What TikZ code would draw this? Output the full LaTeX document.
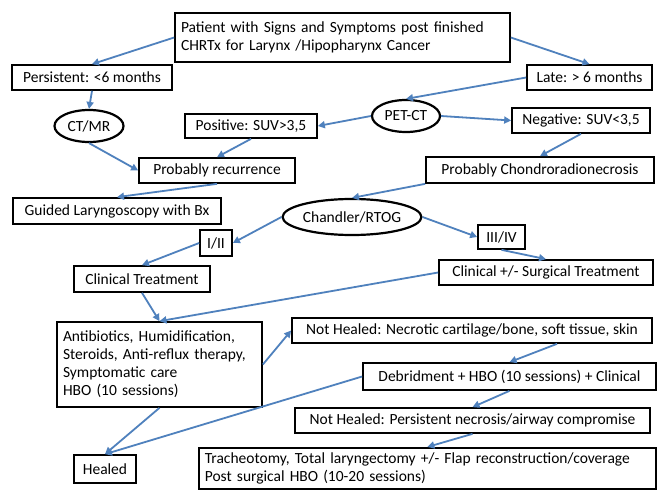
\documentclass[tikz,border=0pt]{standalone}
\usepackage{fontspec}
\setmainfont{Carlito}
\usetikzlibrary{arrows.meta,shapes.geometric}
\definecolor{arrowblue}{RGB}{79,129,189}

\begin{document}
\begin{tikzpicture}[x=1pt,y=-1pt]
\tikzset{box/.style={draw=black,line width=1.7pt,inner xsep=6pt,inner ysep=0pt,minimum height=25pt}}
\tikzset{oval/.style={ellipse,draw=black,line width=2.2pt,inner sep=0pt}}
\tikzset{flow/.style={draw=arrowblue,line width=1.8pt,-{Triangle[length=7pt,width=7pt]}}}

\fontsize{15.5}{18}\selectfont

\useasboundingbox (0,0) rectangle (660,489);
\clip (0,0) rectangle (660,489);
\fill[white] (0,0) rectangle (660,489);

\node[box,text width=323pt,minimum height=49pt,align=left] (patient) at (342.5,37.5) {Patient with Signs and Symptoms post finished\\CHRTx for Larynx /Hipopharynx Cancer};
\node[box,minimum width=160pt] (persistent) at (92,77.5) {Persistent: <6 months};
\node[box,minimum width=125pt] (late) at (589.5,77.5) {Late: > 6 months};
\node[oval,minimum width=69pt,minimum height=32pt] (ctmr) at (89,126) {CT/MR};
\node[box,minimum width=132pt,minimum height=24pt] (positive) at (251,126) {Positive: SUV>3,5};
\node[oval,minimum width=68pt,minimum height=32pt] (petct) at (406,116) {PET-CT};
\node[box,minimum width=138pt] (negative) at (581,120.5) {Negative: SUV<3,5};
\node[box,minimum width=156pt] (recurrence) at (217,170.5) {Probably recurrence};
\node[box,minimum width=228pt,minimum height=26pt] (chondro) at (540,170) {Probably Chondroradionecrosis};
\node[box,minimum width=208pt,minimum height=26pt] (biopsy) at (117,211) {Guided Laryngoscopy with Bx};
\node[oval,minimum width=120pt,minimum height=36pt] (chandler) at (352,217) {Chandler/RTOG};
\node[box,minimum width=32pt,minimum height=26pt,inner xsep=2pt] (lowgrade) at (216,243) {I/II};
\node[box,minimum width=47pt,minimum height=24pt,inner xsep=2pt] (highgrade) at (501.5,237) {III/IV};
\node[box,minimum width=136pt,minimum height=26pt] (clinical) at (142,279) {Clinical Treatment};
\node[box,minimum width=214pt] (surgical) at (546,272.5) {Clinical +/- Surgical Treatment};
\node[box,text width=193pt,minimum height=85pt,align=left] (therapy) at (159.5,364.5) {Antibiotics, Humidification,\\Steroids, Anti-reflux therapy,\\Symptomatic care\\HBO (10 sessions)};
\node[box,minimum width=360pt] (necrotic) at (472,330.5) {Not Healed: Necrotic cartilage/bone, soft tissue, skin};
\node[box,minimum width=293pt,minimum height=27pt] (debridment) at (509.5,376.5) {Debridment + HBO (10 sessions) + Clinical};
\node[box,minimum width=355pt] (airway) at (472.5,420.5) {Not Healed: Persistent necrosis/airway compromise};
\node[box,minimum width=62pt,minimum height=28pt,inner xsep=2pt] (healed) at (105,469) {Healed};
\node[box,text width=445pt,minimum height=0pt,anchor=north west,align=left,inner ysep=5pt] (surgery) at (198,447) {Tracheotomy, Total laryngectomy +/- Flap reconstruction/coverage\\Post surgical HBO (10-20 sessions)};

\draw[flow] (patient.west) -- (persistent.north);
\draw[flow] (patient.east) -- (late.north);
\draw[flow] (persistent.south) -- (ctmr.north);
\draw[flow] (late.west) -- (petct.north);
\draw[flow] (petct.west) -- (positive.east);
\draw[flow] (petct.east) -- (negative.west);
\draw[flow] (positive.south) -- (recurrence.north);
\draw[flow] (ctmr.south) -- (recurrence.west);
\draw[flow] (negative.south) -- (chondro.north);
\draw[flow] (recurrence.south) -- (biopsy.north);
\draw[flow] (chondro.south west) -- (chandler.north);
\draw[flow] (chandler.west) -- (lowgrade.east);
\draw[flow] (chandler.east) -- (highgrade.west);
\draw[flow] (lowgrade.west) -- (clinical.north);
\draw[flow] (highgrade.south) -- (surgical.north);
\draw[flow] (clinical.south) -- (therapy.north);
\draw[flow] (surgical.west) -- (therapy.north);
\draw[flow] (therapy.east) -- (necrotic.west);
\draw[flow] (therapy.south) -- (healed.north);
\draw[flow] (debridment.west) -- (healed.north);
\draw[flow] ([xshift=85pt]necrotic.south) -- (debridment.north);
\draw[flow] (debridment.south) -- (airway.north);
\draw[flow] (airway.south) -- (surgery.north);

\end{tikzpicture}
\end{document}
